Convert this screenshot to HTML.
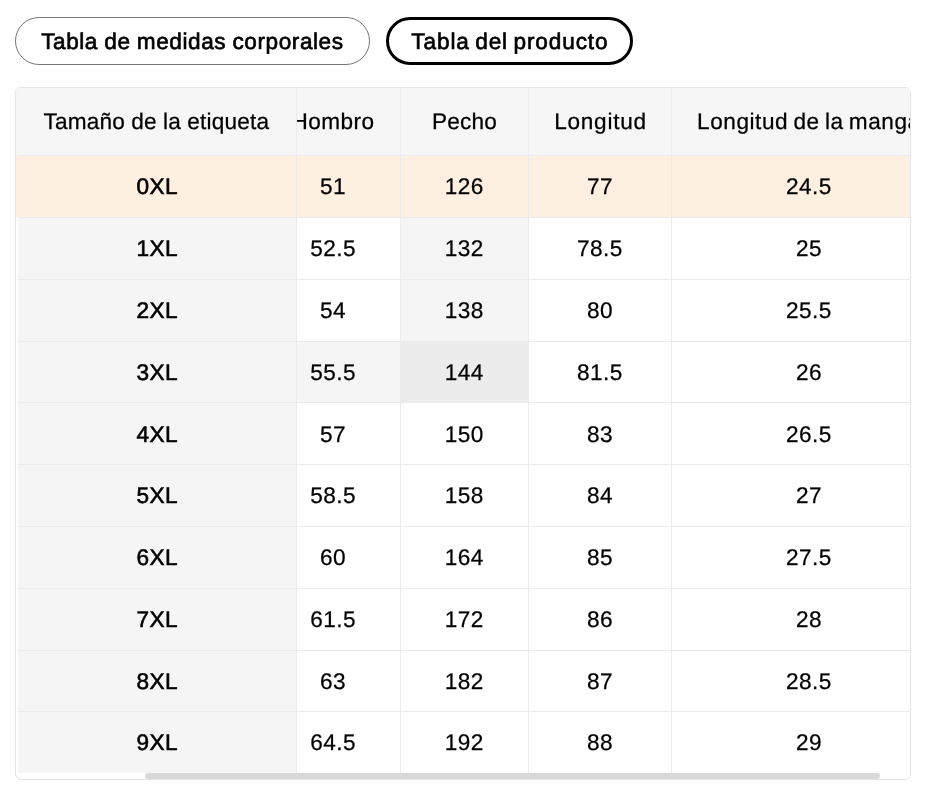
<!DOCTYPE html>
<html lang="es">
<head>
<meta charset="utf-8">
<title>Tabla de medidas</title>
<style>
*{box-sizing:border-box;margin:0;padding:0}
html,body{width:942px;height:804px;background:#fff;overflow:hidden}
body{font-family:"Liberation Sans",sans-serif;color:#000;position:relative;font-size:22.6px;line-height:26px;text-rendering:geometricPrecision}
.tabs{position:absolute;left:15px;top:17px;height:48px}
.tab{position:absolute;top:0;height:48px;border-radius:24px;text-align:center;white-space:nowrap;background:#fff;-webkit-text-stroke:0.65px #000}
.tab span{position:relative}
.tab1{left:0;width:355px;border:1px solid #767676;padding-top:11px;letter-spacing:0.570px}
.tab1 span{left:-0.140px}
.tab2{left:371px;width:247px;border:3px solid #000;padding-top:9px;letter-spacing:0.880px}
.tab2 span{left:0.400px}
.wrap{position:absolute;left:15px;top:87px;width:896px;height:693px;border:1px solid #e5e5e5;border-radius:6px;overflow:hidden;background:#fff}
.grid{position:absolute;left:0;top:0;width:894px;height:685px;overflow:hidden}
.row{position:absolute;left:0;width:930px}
.row.head{top:0;height:68px}
.cell{position:absolute;top:0;height:100%;border-right:1px solid #ebebeb;border-bottom:1px solid #ebebeb;text-align:center;white-space:nowrap;background:#fff;letter-spacing:0.43px;-webkit-text-stroke:0.25px #000}
.cell span{position:relative}
.head .cell{background:#f6f6f6;padding-top:21px;-webkit-text-stroke:0.25px #000}
.c2{left:249px;width:136px}
.c3{left:385px;width:128px}
.c4{left:513px;width:143px}
.c5{left:656px;width:273px}
.c1{left:2px;width:279px;z-index:2;background:#f5f5f5;letter-spacing:0.5px;-webkit-text-stroke:0.6px #000}
.c1 span{left:0.25px}
.head .c1{left:0;width:281px;padding-left:2px}
.hl .cell{background:#fdf0e1}
.edge{position:absolute;left:0;top:67px;width:2px;height:62px;background:#fdf0e1;z-index:3}
.cell.h1{background:#f5f5f5}
.cell.h2{background:#ececec}
.bar{position:absolute;left:129px;top:685px;width:735px;height:6px;border-radius:3px;background:#d9d9d9}
.c2 span{left:0.6px}
.c3 span{left:-0.25px}
.c4 span{left:-0.06px}
.c5 span{left:0.9px}
.head .c1{letter-spacing:0.200px}
.head .c1 span{left:-0.660px}
.head .c2{letter-spacing:0.46px}
.head .c2 span{left:0.5px}
.head .c3{letter-spacing:0.22px}
.head .c3 span{left:0.07px}
.head .c4{letter-spacing:0.74px}
.head .c4 span{left:0.48px}
.head .c5{letter-spacing:0.55px}
.head .c5 span{left:0.86px}
.head .c5{word-spacing:-1.580px}
.head .c1{word-spacing:-0.270px}
.tab1{word-spacing:-0.590px}
.tab2{word-spacing:-1.700px}
.r0{top:68px;height:62px}
.r0 .cell{padding-top:18px}
.r1{top:130px;height:62px}
.r1 .cell{padding-top:18px}
.r2{top:192px;height:62px}
.r2 .cell{padding-top:18px}
.r3{top:254px;height:61px}
.r3 .cell{padding-top:18px}
.r4{top:315px;height:62px}
.r4 .cell{padding-top:19px}
.r5{top:377px;height:62px}
.r5 .cell{padding-top:18px}
.r6{top:439px;height:62px}
.r6 .cell{padding-top:18px}
.r7{top:501px;height:62px}
.r7 .cell{padding-top:18px}
.r8{top:563px;height:61px}
.r8 .cell{padding-top:18px}
.r9{top:624px;height:62px}
.r9 .cell{padding-top:18px}
</style>
</head>
<body>
<div class="tabs"><div class="tab tab1"><span>Tabla de medidas corporales</span></div><div class="tab tab2"><span>Tabla del producto</span></div></div>
<div class="wrap">
<div class="grid">
<div class="row head"><div class="cell c1"><span>Tamaño de la etiqueta</span></div><div class="cell c2"><span>Hombro</span></div><div class="cell c3"><span>Pecho</span></div><div class="cell c4"><span>Longitud</span></div><div class="cell c5"><span>Longitud de la manga</span></div></div>
<div class="row r0 hl"><div class="cell c1"><span>0XL</span></div><div class="cell c2"><span>51</span></div><div class="cell c3"><span>126</span></div><div class="cell c4"><span>77</span></div><div class="cell c5"><span>24.5</span></div></div>
<div class="row r1"><div class="cell c1"><span>1XL</span></div><div class="cell c2"><span>52.5</span></div><div class="cell c3 h1"><span>132</span></div><div class="cell c4"><span>78.5</span></div><div class="cell c5"><span>25</span></div></div>
<div class="row r2"><div class="cell c1"><span>2XL</span></div><div class="cell c2"><span>54</span></div><div class="cell c3 h1"><span>138</span></div><div class="cell c4"><span>80</span></div><div class="cell c5"><span>25.5</span></div></div>
<div class="row r3"><div class="cell c1"><span>3XL</span></div><div class="cell c2 h1"><span>55.5</span></div><div class="cell c3 h2"><span>144</span></div><div class="cell c4"><span>81.5</span></div><div class="cell c5"><span>26</span></div></div>
<div class="row r4"><div class="cell c1"><span>4XL</span></div><div class="cell c2"><span>57</span></div><div class="cell c3"><span>150</span></div><div class="cell c4"><span>83</span></div><div class="cell c5"><span>26.5</span></div></div>
<div class="row r5"><div class="cell c1"><span>5XL</span></div><div class="cell c2"><span>58.5</span></div><div class="cell c3"><span>158</span></div><div class="cell c4"><span>84</span></div><div class="cell c5"><span>27</span></div></div>
<div class="row r6"><div class="cell c1"><span>6XL</span></div><div class="cell c2"><span>60</span></div><div class="cell c3"><span>164</span></div><div class="cell c4"><span>85</span></div><div class="cell c5"><span>27.5</span></div></div>
<div class="row r7"><div class="cell c1"><span>7XL</span></div><div class="cell c2"><span>61.5</span></div><div class="cell c3"><span>172</span></div><div class="cell c4"><span>86</span></div><div class="cell c5"><span>28</span></div></div>
<div class="row r8"><div class="cell c1"><span>8XL</span></div><div class="cell c2"><span>63</span></div><div class="cell c3"><span>182</span></div><div class="cell c4"><span>87</span></div><div class="cell c5"><span>28.5</span></div></div>
<div class="row r9"><div class="cell c1"><span>9XL</span></div><div class="cell c2"><span>64.5</span></div><div class="cell c3"><span>192</span></div><div class="cell c4"><span>88</span></div><div class="cell c5"><span>29</span></div></div>
<div class="edge"></div>
</div>
<div class="bar"></div>
</div>
</body>
</html>
